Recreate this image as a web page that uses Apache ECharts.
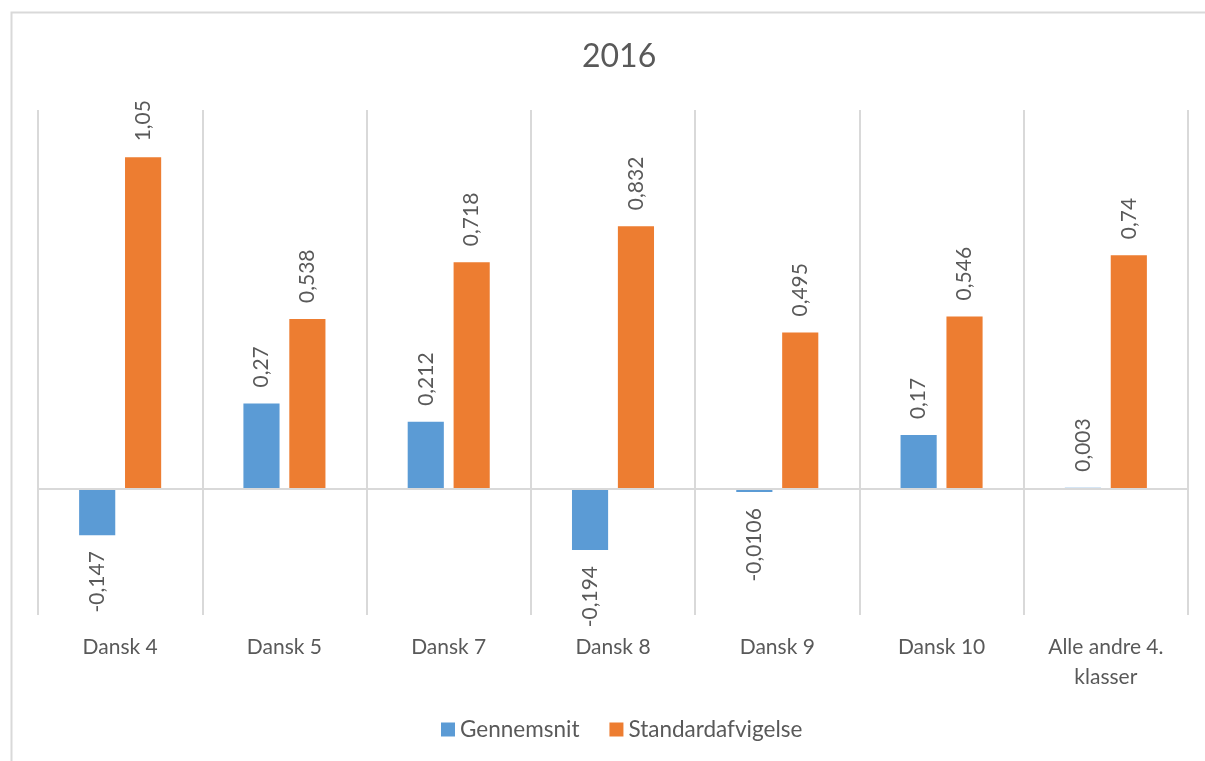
<!DOCTYPE html>
<html lang="da">
<head>
    <meta charset="UTF-8">
    <title>2016</title>
    <script src="https://cdn.jsdelivr.net/npm/echarts@6/dist/echarts.min.js"></script>
    <style>
        html, body { margin: 0; padding: 0; background: #fff; }
        #chart { width: 1205px; height: 761px; }
    </style>
</head>
<body>
    <div id="chart"></div>
    <script>
        // data
        var categories = ['Dansk 4', 'Dansk 5', 'Dansk 7', 'Dansk 8', 'Dansk 9', 'Dansk 10', 'Alle andre 4.\nklasser'];
        var gennemsnit = [-0.147, 0.27, 0.212, -0.194, -0.0106, 0.17, 0.003];
        var standardafvigelse = [1.05, 0.538, 0.718, 0.832, 0.495, 0.546, 0.74];

        var font = 'Lato';
        var textColor = '#595959';

        // rotated data labels, above positive bars and below negative ones
        function labelFor(v) {
            var base = {
                show: true,
                rotate: 90,
                fontFamily: font,
                fontSize: 21,
                color: textColor,
                distance: 16,
                verticalAlign: 'middle',
                formatter: function (p) { return String(p.value).replace('.', ','); }
            };
            if (v < 0) {
                base.position = 'bottom';
                base.align = 'right';
            } else {
                base.position = 'top';
                base.align = 'left';
            }
            return base;
        }

        function toItems(arr) {
            return arr.map(function (v) { return { value: v, label: labelFor(v) }; });
        }

        var myChart = echarts.init(document.getElementById('chart'));

        var option = {
            animation: false,
            title: {
                text: '2016',
                left: 577,
                top: 36,
                textStyle: { fontFamily: font, fontSize: 32, fontWeight: 'normal', color: textColor }
            },
            legend: {
                bottom: 15,
                left: 436,
                itemWidth: 14,
                itemHeight: 14,
                itemGap: 30,
                icon: 'rect',
                textStyle: { fontFamily: font, fontSize: 22.5, color: textColor }
            },
            grid: { left: 38, right: 17, top: 110, bottom: 146 },
            xAxis: {
                type: 'category',
                data: categories,
                position: 'bottom',
                axisLine: { show: false },
                axisTick: { show: false },
                splitLine: { show: true, lineStyle: { color: '#d9d9d9', width: 2 } },
                axisLabel: {
                    fontFamily: font,
                    fontSize: 21,
                    color: textColor,
                    margin: 17,
                    lineHeight: 30,
                    interval: 0
                }
            },
            yAxis: {
                type: 'value',
                min: -0.4,
                max: 1.2,
                show: false
            },
            series: [
                {
                    name: 'Gennemsnit',
                    type: 'bar',
                    data: toItems(gennemsnit),
                    barWidth: '22%',
                    barGap: '27%',
                    itemStyle: { color: '#5b9bd5' },
                    markLine: {
                        silent: true,
                        symbol: 'none',
                        label: { show: false },
                        lineStyle: { color: '#d9d9d9', width: 2, type: 'solid' },
                        data: [{ yAxis: 0 }]
                    }
                },
                {
                    name: 'Standardafvigelse',
                    type: 'bar',
                    data: toItems(standardafvigelse),
                    barWidth: '22%',
                    itemStyle: { color: '#ed7d31' }
                }
            ],
            graphic: [{
                type: 'rect',
                left: 9,
                top: 10,
                shape: { width: 1300, height: 900 },
                style: { fill: 'none', stroke: '#d9d9d9', lineWidth: 2 },
                silent: true
            }]
        };

        myChart.setOption(option);
    </script>
</body>
</html>
